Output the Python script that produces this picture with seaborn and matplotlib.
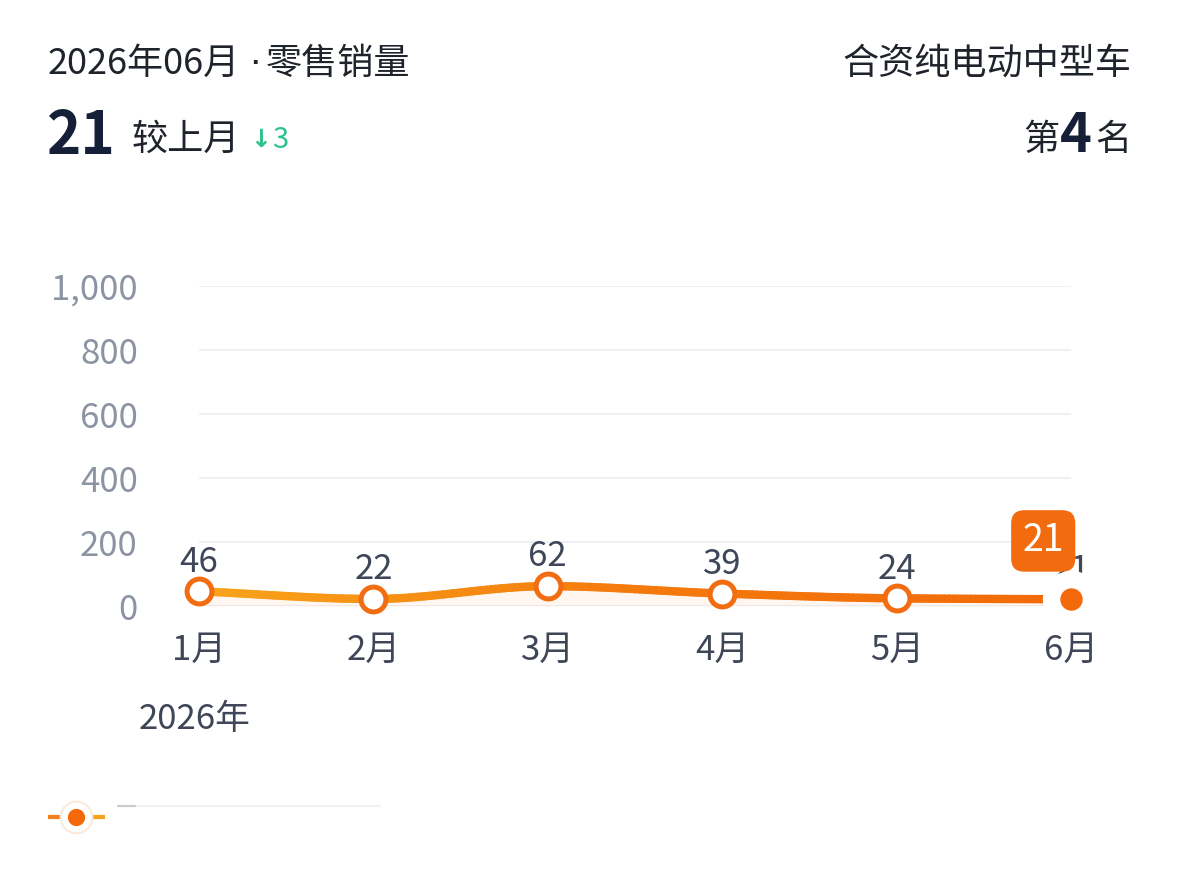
import numpy as np
import seaborn as sns
import matplotlib.pyplot as plt
from matplotlib.collections import LineCollection
from matplotlib.colors import LinearSegmentedColormap

months = ['1月', '2月', '3月', '4月', '5月', '6月']
sales = [46, 22, 62, 39, 24, 21]
yticks = [0, 200, 400, 600, 800, 1000]
ytick_labels = ['0', '200', '400', '600', '800', '1,000']

sns.set_theme(style='white')
plt.rcParams['font.family'] = ['Noto Sans CJK SC', 'DejaVu Sans']

W, H = 1179, 884
fig = plt.figure(figsize=(W / 100, H / 100), dpi=100)
fig.patch.set_facecolor('white')


def px(x, y):
    return x / W, 1 - y / H


# axes placed so that month 1..6 sit at x=199..1071 px, 0..1000 at y=606..286 px
x0, x1, y0, y1 = 199, 1071, 606, 286
ax = fig.add_axes([x0 / W, 1 - y0 / H, (x1 - x0) / W, (y0 - y1) / H])
ax.set_facecolor('white')

xs = np.arange(len(months))
ax.set_xlim(0, len(months) - 1)
ax.set_ylim(0, 1000)
for t in yticks:
    ax.axhline(t, color='#eceef3', lw=1.2, zorder=0)
sns.despine(ax=ax, left=True, bottom=True)
ax.set_yticks(yticks)
ax.set_yticklabels(ytick_labels, fontsize=25, color='#8c93a3')
ax.set_xticks(xs)
ax.set_xticklabels(months, fontsize=25, color='#3f4657')
ax.tick_params(axis='y', length=0, pad=44)
ax.tick_params(axis='x', length=0, pad=19)


# smooth path through the points (monotone cubic, like the app's smoothed line)
def smooth(x, y, n=40):
    x = np.asarray(x, float)
    y = np.asarray(y, float)
    d = np.diff(y) / np.diff(x)
    m = np.zeros_like(y)
    m[0], m[-1] = d[0], d[-1]
    for i in range(1, len(y) - 1):
        m[i] = 0 if d[i - 1] * d[i] <= 0 else 2 / (1 / d[i - 1] + 1 / d[i])
    xx, yy = [], []
    for i in range(len(x) - 1):
        h = x[i + 1] - x[i]
        t = np.linspace(0, 1, n, endpoint=False)
        h00 = 2 * t**3 - 3 * t**2 + 1
        h10 = t**3 - 2 * t**2 + t
        h01 = -2 * t**3 + 3 * t**2
        h11 = t**3 - t**2
        xx.append(x[i] + t * h)
        yy.append(h00 * y[i] + h10 * h * m[i] + h01 * y[i + 1] + h11 * h * m[i + 1])
    xx.append([x[-1]])
    yy.append([y[-1]])
    return np.concatenate(xx), np.concatenate(yy)


sx, sy = smooth(xs, sales)
ax.fill_between(sx, sy, 0, color='#ff8a2a', alpha=0.07, lw=0, zorder=1)
cmap = LinearSegmentedColormap.from_list('og', ['#f9a41b', '#f47a0c', '#f26a07'])
pts = np.column_stack([sx, sy]).reshape(-1, 1, 2)
segs = np.concatenate([pts[:-1], pts[1:]], axis=1)
lc = LineCollection(segs, cmap=cmap, linewidths=6, capstyle='round', zorder=2)
lc.set_array(sx[:-1])
ax.add_collection(lc)

# hollow markers for months 1-5
sns.scatterplot(x=xs[:-1], y=sales[:-1], ax=ax, s=320, marker='o',
                facecolor='white', edgecolor='#f26d12', linewidth=3.6,
                zorder=4, clip_on=False, legend=False)
# highlighted last point with wide white ring
sns.scatterplot(x=xs[-1:], y=sales[-1:], ax=ax, s=1700, marker='o',
                color='white', linewidth=0, zorder=4, clip_on=False, legend=False)
sns.scatterplot(x=xs[-1:], y=sales[-1:], ax=ax, s=260, marker='o',
                color='#f46a0a', linewidth=0, zorder=5, clip_on=False, legend=False)

for x, v in zip(xs, sales):
    ax.annotate(str(v), (x, v), xytext=(0, 21), textcoords='offset points',
                ha='center', va='center', fontsize=25, color='#3f4657',
                zorder=3, annotation_clip=False)

# tooltip for the last month
ax.annotate(str(sales[-1]), (xs[-1], sales[-1]), xytext=(-20, 42),
            textcoords='offset points', ha='center', va='center',
            fontsize=27, color='white', zorder=7, annotation_clip=False,
            bbox=dict(boxstyle='round,pad=0.3,rounding_size=0.35',
                      fc='#f26b0f', ec='none'))

fig.text(*px(139, 720), '2026年', fontsize=25, color='#3f4657', ha='left', va='center')

# header
fig.text(*px(48, 64), '2026年06月', fontsize=26, color='#1f232b', ha='left', va='center')
fig.text(*px(255, 64), '·', fontsize=26, color='#1f232b', ha='center', va='center',
         family=['DejaVu Sans'])
fig.text(*px(266, 64), '零售销量', fontsize=26, color='#1f232b', ha='left', va='center')
fig.text(*px(47, 137), '21', fontsize=42, fontweight='bold', color='#152038', ha='left', va='center')
fig.text(*px(132, 140), '较上月', fontsize=26, color='#1f232b', ha='left', va='center')
fig.text(*px(250, 140), '↓', fontsize=18, fontweight='bold', color='#2ec28b', ha='left', va='center',
         family=['DejaVu Sans'])
fig.text(*px(272, 140), '3', fontsize=21, color='#2ec28b', ha='left', va='center')
fig.text(*px(1131, 64), '合资纯电动中型车', fontsize=26, color='#1f232b', ha='right', va='center')
fig.text(*px(1131, 140), '名', fontsize=26, color='#1f232b', ha='right', va='center')
fig.text(*px(1076, 136), '4', fontsize=39, fontweight='bold', color='#152038', ha='center', va='center')
fig.text(*px(1023, 140), '第', fontsize=26, color='#1f232b', ha='left', va='center')

# legend marker
lax = fig.add_axes([0, 0, 1, 1], facecolor='none')
lax.set_xlim(0, W)
lax.set_ylim(H, 0)
lax.axis('off')
lax.plot([48, 62], [817, 817], color='#f07f1c', lw=3, solid_capstyle='butt')
lax.plot([91, 105], [817, 817], color='#f5a31d', lw=3, solid_capstyle='butt')
lax.scatter([76], [817], s=520, color='white', edgecolor='#fbe9dc', linewidth=1.5, zorder=3)
lax.scatter([76], [817], s=130, color='#f46a0a', zorder=4)
lax.plot([118, 380], [806, 806], color='#eceef0', lw=1.5, alpha=0.8)
lax.plot([118, 135], [806, 806], color='#c0c2c7', lw=1.5, alpha=0.8)

fig.savefig('out.png', dpi=100, facecolor='white')
